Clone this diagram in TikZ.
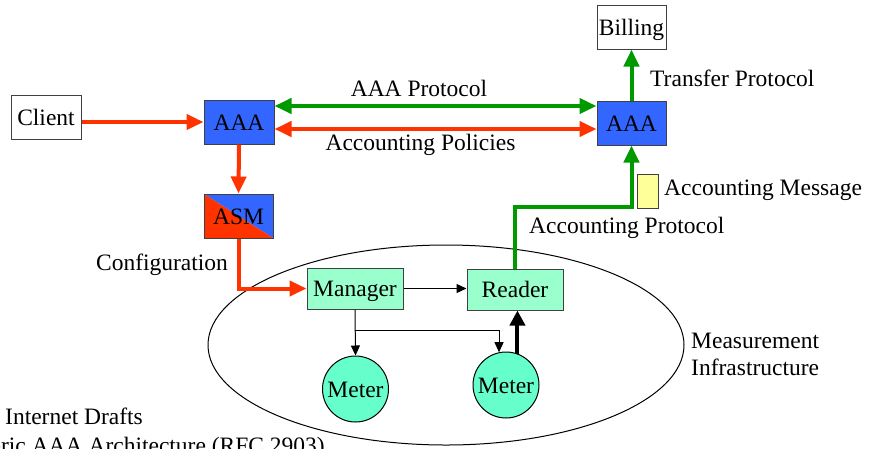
\documentclass[tikz,border=0pt]{standalone}
\usepackage{fontspec}
\setmainfont{Liberation Serif}
\usetikzlibrary{arrows.meta}

\definecolor{aaablue}{HTML}{3366FF}
\definecolor{flowred}{HTML}{FF3300}
\definecolor{flowgreen}{HTML}{009900}
\definecolor{devgreen}{HTML}{99FFCC}
\definecolor{metergreen}{HTML}{66FFCC}
\definecolor{msgyellow}{HTML}{FFFF99}

\tikzset{
  txt/.style={font=\fontsize{23.5}{27}\selectfont, inner sep=0pt},
  boxtxt/.style={txt, text height=16pt, text depth=0pt},
  box/.style={boxtxt, draw=black!75, line width=1pt, minimum width=70pt, minimum height=44pt},
  aaabox/.style={box, fill=aaablue},
  devbox/.style={box, fill=devgreen, minimum width=96pt, minimum height=41pt},
  meter/.style={boxtxt, circle, draw=black, line width=1pt, fill=metergreen, minimum size=66pt},
  redflow/.style={draw=flowred, line width=4pt, -{Triangle[length=17pt,width=15pt]}},
  greenflow/.style={draw=flowgreen, line width=4pt, -{Triangle[length=17pt,width=15pt]}},
  thinflow/.style={draw=black, line width=1pt, -{Triangle[length=10pt,width=9pt]}},
  thickflow/.style={draw=black, line width=4pt, -{Triangle[length=15pt,width=15pt]}},
}

\begin{document}
\begin{tikzpicture}[x=1pt, y=-1pt]
\useasboundingbox (0,0) rectangle (869,448);
\clip (0,0) rectangle (869,448);

% measurement infrastructure boundary
\draw[line width=1pt] (446,345) ellipse [x radius=238pt, y radius=100pt];

% boxes
\node[box, fill=white] (client) at (46,117.5) {Client};
\node[aaabox] (aaaL) at (239,122) {AAA};
\node[aaabox, minimum width=69pt] (aaaR) at (631.5,123) {AAA};
\node[box, fill=white, minimum width=69pt] (billing) at (631.5,27) {Billing};
\node[box, minimum width=69pt,
  path picture={
    \fill[aaablue] (path picture bounding box.north west) -| (path picture bounding box.south east) -- cycle;
    \fill[flowred] (path picture bounding box.north west) |- (path picture bounding box.south east) -- cycle;
  }] (asm) at (238.5,216) {ASM};
\node[devbox] (manager) at (355,288.5) {Manager};
\node[devbox] (reader) at (515,289.5) {Reader};
\node[meter] (meterA) at (355.5,389) {Meter};
\node[meter] (meterB) at (506,385) {Meter};
\node[draw=black!75, line width=1pt, fill=msgyellow, minimum width=21pt, minimum height=34pt, inner sep=0pt] (msg) at (647.5,191) {};

% labels
\node[txt] (lblproto) at (419,88) {AAA Protocol};
\node[txt] (lblpol) at (420.5,145) {Accounting Policies};
\node[txt, anchor=west] (lbltrans) at (650,78) {Transfer Protocol};
\node[txt] (lblconf) at (162,265) {Configuration};
\node[txt, anchor=west] (lblacct) at (529,228) {Accounting Protocol};
\node[txt, anchor=west] (lblmsg) at (664,190) {Accounting Message};
\node[txt, anchor=west, align=left] (lblmeas) at (691,354) {Measurement\\Infrastructure};
\node[txt, anchor=base west] (lbldrafts) at (5,424) {Internet Drafts};
\node[txt, anchor=base east] (lblrfc) at (325,453) {Generic AAA Architecture (RFC 2903)};

% connectors
\draw[redflow] (client.east |- aaaL.west) -- (aaaL.west);
\draw[greenflow, {Triangle[length=17pt,width=15pt]}-{Triangle[length=17pt,width=15pt]}] (aaaL.east |- 0,106) -- (aaaR.west |- 0,106);
\draw[redflow, {Triangle[length=17pt,width=15pt]}-{Triangle[length=17pt,width=15pt]}] (aaaL.east |- 0,129) -- (aaaR.west |- 0,129);
\draw[greenflow] (aaaR.north) -- (billing.south);
\draw[redflow] (aaaL.south) -- (asm.north);
\draw[redflow] (asm.south) |- (manager.west);
\draw[thinflow] (manager.east) -- (reader.west |- manager.east);
\draw[thinflow] (manager.south) -- (meterA.north);
\coordinate (split) at (manager.south |- 0,330);
\draw[thinflow] (split) -| (meterB.102);
\draw[thickflow] (meterB.70) -- (meterB.70 |- reader.south);
\coordinate (bend) at (aaaR.south |- 0,207);
\draw[greenflow] (reader.north) |- (bend) -- (aaaR.south);
\end{tikzpicture}
\end{document}
